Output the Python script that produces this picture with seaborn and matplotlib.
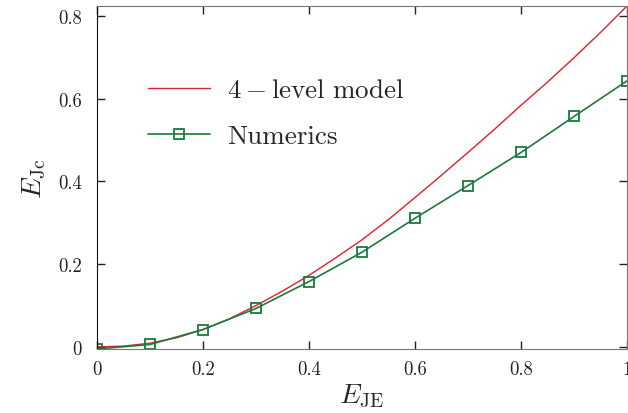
import matplotlib
matplotlib.use("Agg")
import matplotlib.pyplot as plt
import pandas as pd
import seaborn as sns

# 4-level model curve
model_x = [0.0, 0.05, 0.1, 0.15, 0.2, 0.25, 0.3, 0.35, 0.4, 0.45, 0.5,
           0.55, 0.6, 0.65, 0.7, 0.75, 0.8, 0.85, 0.9, 0.95, 1.0]
model_y = [0.0, 0.002, 0.009, 0.022, 0.042, 0.068, 0.100, 0.135, 0.173, 0.215, 0.259,
           0.308, 0.361, 0.415, 0.470, 0.526, 0.584, 0.640, 0.699, 0.760, 0.824]

# numerics
num_x = [0.0, 0.1, 0.2, 0.3, 0.4, 0.5, 0.6, 0.7, 0.8, 0.9, 1.0]
num_y = [-0.005, 0.006, 0.042, 0.093, 0.158, 0.229, 0.311, 0.390, 0.470, 0.557, 0.643]

x_ticks = [0, 0.2, 0.4, 0.6, 0.8, 1]
x_labels = ["0", "0.2", "0.4", "0.6", "0.8", "1"]
y_ticks = [0, 0.2, 0.4, 0.6, 0.8]
y_labels = ["0", "0.2", "0.4", "0.6", "0.8"]

sns.set_style("ticks")
plt.rcParams["font.family"] = ["cmr10", "DejaVu Serif"]
plt.rcParams["mathtext.fontset"] = "cm"
plt.rcParams["axes.formatter.use_mathtext"] = True

red = "#e0202c"
green = "#1b7a3c"

fig = plt.figure(figsize=(6.28, 4.14), dpi=100)
ax = fig.add_axes([97 / 628, 1 - 350 / 414, 530 / 628, 343 / 414])

model = pd.DataFrame({"x": model_x, "y": model_y})
num = pd.DataFrame({"x": num_x, "y": num_y})

sns.lineplot(data=model, x="x", y="y", ax=ax, color=red, linewidth=1.0,
             label=r"$4-\mathrm{level\ model}$")
sns.lineplot(data=num, x="x", y="y", ax=ax, color=green, linewidth=1.2,
             marker="s", markersize=7, markerfacecolor="none",
             markeredgecolor=green, markeredgewidth=1.3, label="Numerics")

ax.set_xlim(0, 1)
ax.set_ylim(-0.005, 0.824)
ax.set_xticks(x_ticks)
ax.set_xticklabels(x_labels)
ax.set_yticks(y_ticks)
ax.set_yticklabels(y_labels)
ax.tick_params(direction="in", length=6, width=1, labelsize=13.5,
               top=True, right=True, colors="#222222")
ax.tick_params(axis="x", pad=8)
ax.tick_params(axis="y", pad=11)
for side in ["top", "right", "bottom"]:
    ax.spines[side].set_color("#777777")
ax.spines["left"].set_color("#111111")

ax.set_xlabel(r"$E_{\mathrm{JE}}$", fontsize=20, labelpad=3)
ax.set_ylabel(r"$E_{\mathrm{Jc}}$", fontsize=20, labelpad=7)

leg = ax.legend(loc="upper left", bbox_to_anchor=(0.096, 0.79), frameon=False,
                fontsize=19.5, handlelength=2.3, handletextpad=0.63,
                labelspacing=0.82, borderpad=0, borderaxespad=0)

fig.savefig("out.png", dpi=100)
